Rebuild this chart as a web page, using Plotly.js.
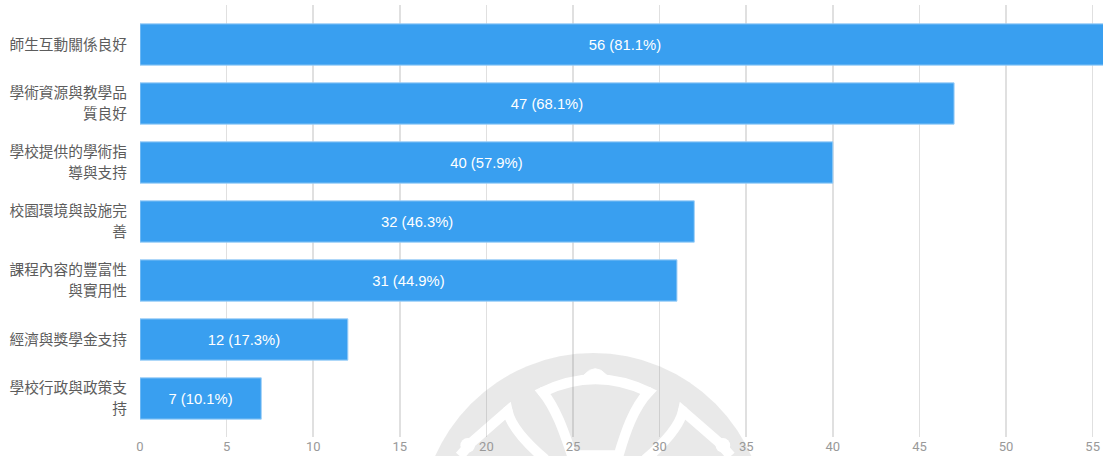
<!DOCTYPE html>
<html><head><meta charset="utf-8">
<script src="https://cdn.plot.ly/plotly-3.0.0.min.js"></script>
<style>html,body{margin:0;padding:0;background:#fff}#c{width:1103px;height:456px}</style>
</head><body><div id="c"></div>
<script>
const categories = ["師生互動關係良好","學術資源與教學品<br>質良好","學校提供的學術指<br>導與支持","校園環境與設施完<br>善","課程內容的豐富性<br>與實用性","經濟與獎學金支持","學校行政與政策支<br>持"];
const counts = [56,47,40,32,31,12,7];
const percents = ["81.1%","68.1%","57.9%","46.3%","44.9%","17.3%","10.1%"];
const xTicks = [0,5,10,15,20,25,30,35,40,45,50,55];
const barLabels = counts.map((c,i)=>c+" ("+percents[i]+")");
const W=1103,H=456,L=139.5,T=5,B=437;
const fx=zx=>((430+zx/3)-L)/(W-L), fy=zy=>(B-(346+zy/3))/(B-T);
const zpath=pts=>pts.map(p=>typeof p==='string'?p:fx(p[0]).toFixed(5)+','+fy(p[1]).toFixed(5)).join(' ');
const white=(d,w,fill)=>({type:'path',layer:'below',xref:'paper',yref:'paper',path:d,line:{color:'#ffffff',width:w},fillcolor:fill||'rgba(0,0,0,0)'});
const dot=(zx,zy,r)=>({type:'circle',layer:'below',xref:'paper',yref:'paper',x0:fx(zx-r),x1:fx(zx+r),y0:fy(zy+r),y1:fy(zy-r),fillcolor:'#ffffff',line:{width:0}});
const trace = {type:'bar',orientation:'h',y:categories.map((_,i)=>i),x:counts,width:0.7,
  marker:{color:'#399ff0',line:{color:'#9dcff7',width:1}},
  text:barLabels,textposition:'inside',insidetextanchor:'middle',textangle:0,constraintext:'none',
  insidetextfont:{family:'"Liberation Sans",Arial,sans-serif',size:14.8,color:'#ffffff'},
  cliponaxis:true,hoverinfo:'skip'};
const wm='rgba(190,190,190,0.34)';
const layout={width:W,height:H,autosize:false,showlegend:false,paper_bgcolor:'#fff',plot_bgcolor:'rgba(0,0,0,0)',
  margin:{l:L,r:0,t:T,b:H-B,pad:0},
  bargap:0.3,
  xaxis:{range:[0,(W-L)/17.33],tickmode:'array',tickvals:xTicks,ticktext:xTicks.map(String),showgrid:true,gridcolor:'rgba(130,130,130,0.25)',gridwidth:1.5,zeroline:false,showline:false,ticks:'',tickfont:{family:'Roboto,sans-serif',size:13,color:'#999999'},ticklen:0,automargin:false},
  yaxis:{range:[(B-44.5)/59,(T-44.5)/59],tickmode:'array',tickvals:categories.map((_,i)=>i),ticktext:categories,showgrid:false,zeroline:false,showline:false,ticks:'',ticklen:0,ticklabelstandoff:12,tickfont:{family:'"Noto Sans CJK TC",sans-serif',size:14.7,color:'#5c5c5c'},automargin:false},
  shapes:[
   {type:'circle',layer:'below',xref:'paper',yref:'paper',x0:(593-173-L)/(W-L),x1:(593+173-L)/(W-L),y0:(B-526-173)/(B-T),y1:(B-526+173)/(B-T),fillcolor:wm,line:{width:0}},
   white(zpath(['M',[337,138],'Q',[495,62],[655,138],'C',[610,185],[585,260],[565,328],'L',[425,328],'C',[405,270],[380,190],[337,138],'Z']),10),
   white(zpath(['M',[88,330],'L',[125,288],'L',[232,195],'Q',[245,255],[345,340]]),10),
   white(zpath(['M',[902,330],'L',[865,288],'L',[758,195],'Q',[745,255],[645,340]]),10),
   white(zpath(['M',[460,88],'Q',[495,48],[530,88],'Z']),1,'#ffffff'),
   dot(112,298,22),dot(878,298,22),dot(232,195,15),dot(758,195,15),dot(337,138,15),dot(655,138,15)
  ]
};
const lineGap=21.5;
Plotly.newPlot('c',[trace],layout,{displayModeBar:false,staticPlot:true}).then(gd=>{
  gd.querySelectorAll('.ytick text').forEach(t=>{
    const ls=t.querySelectorAll('tspan.line');
    if(ls.length===2){ls[0].setAttribute('dy','-1.5px');ls[1].setAttribute('dy',(lineGap-1.5)+'px');}
  });
});
</script></body></html>
